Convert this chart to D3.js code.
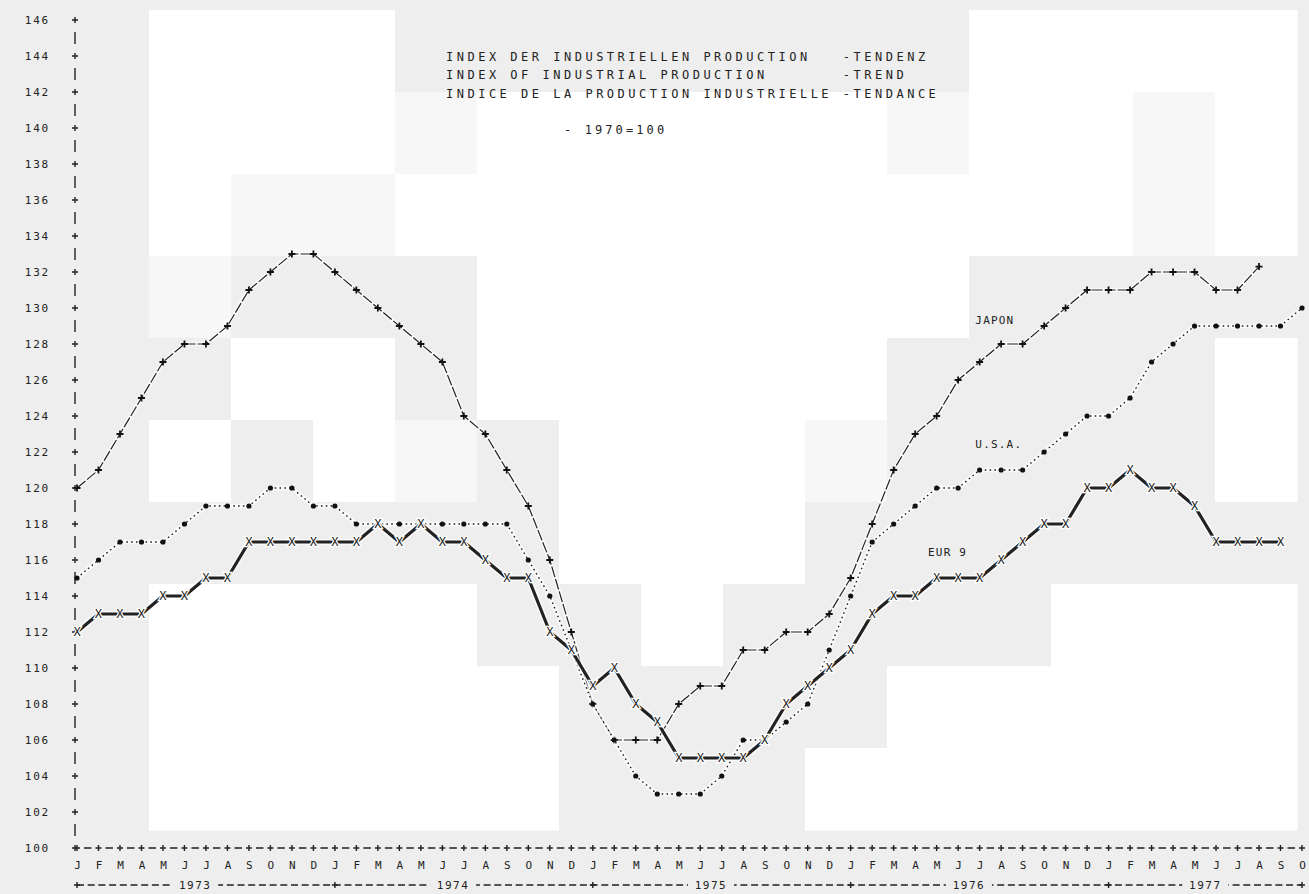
<!DOCTYPE html>
<html>
<head>
<meta charset="utf-8">
<script src="https://cdn.jsdelivr.net/npm/d3@7"></script>
<style>
    body { margin: 0; background: #fff; }
    svg text { font-family: "DejaVu Sans Mono", "Liberation Mono", monospace; fill: #222; }
</style>
</head>
<body>
<svg id="chart" width="1309" height="894"></svg>
<script>
// data (index 1970 = 100), monthly from Jan 1973
const monthLetters = ["J", "F", "M", "A", "M", "J", "J", "A", "S", "O", "N", "D"]
const years = ["1973", "1974", "1975", "1976", "1977"]
const monthCount = 58 // Jan 1973 .. Oct 1977

const japon = [
    120, 121, 123, 125, 127, 128, 128, 129, 131, 132, 133, 133,
    132, 131, 130, 129, 128, 127, 124, 123, 121, 119, 116, 112,
    108, 106, 106, 106, 108, 109, 109, 111, 111, 112, 112, 113,
    115, 118, 121, 123, 124, 126, 127, 128, 128, 129, 130, 131,
    131, 131, 132, 132, 132, 131, 131, 132.3
]
const usa = [
    115, 116, 117, 117, 117, 118, 119, 119, 119, 120, 120, 119,
    119, 118, 118, 118, 118, 118, 118, 118, 118, 116, 114, 111,
    108, 106, 104, 103, 103, 103, 104, 106, 106, 107, 108, 111,
    114, 117, 118, 119, 120, 120, 121, 121, 121, 122, 123, 124,
    124, 125, 127, 128, 129, 129, 129, 129, 129, 130
]
const eur9 = [
    112, 113, 113, 113, 114, 114, 115, 115, 117, 117, 117, 117,
    117, 117, 118, 117, 118, 117, 117, 116, 115, 115, 112, 111,
    109, 110, 108, 107, 105, 105, 105, 105, 106, 108, 109, 110,
    111, 113, 114, 114, 115, 115, 115, 116, 117, 118, 118, 120,
    120, 121, 120, 120, 119, 117, 117, 117, 117
]
const yTicks = d3.range(100, 147, 2)
const titleLines = [
    "INDEX DER INDUSTRIELLEN PRODUCTION   -TENDENZ",
    "INDEX OF INDUSTRIAL PRODUCTION       -TREND",
    "INDICE DE LA PRODUCTION INDUSTRIELLE -TENDANCE"
]
const baseNote = "- 1970=100"
const seriesLabels = ["JAPON", "U.S.A.", "EUR 9"]

const W = 1309, H = 894
const svg = d3.select("#chart")
const x = d3.scaleLinear().domain([0, monthCount - 1]).range([77, 1302])
const y = d3.scaleLinear().domain([100, 146]).range([848, 20])

// scanned paper: grey with lighter blocks
const shade = { W: "#ffffff", G: "#eeeeee", L: "#f7f7f7" }
const blockRows = [
    "WWWGGGGGGGWWWW",
    "WWWLWWWWWLWWLW",
    "WLLWWWWWWWWWLW",
    "LGGGWWWWWWGGGG",
    "GWWGWWWWWGGGGW",
    "WGWLGWWWLGGGGW",
    "GGGGGWWWGGGGGG",
    "WWWWGGWGGGGWWW",
    "WWWWWGGGGWWWWW",
    "WWWWWGGGWWWWWW"
]
svg.append("rect").attr("width", W).attr("height", H).attr("fill", shade.G)
const bg = svg.append("g")
blockRows.forEach((row, r) => {
    bg.selectAll(null).data(row.split("")).join("rect")
        .attr("x", (c, k) => 149 + k * 82)
        .attr("y", 10 + r * 82)
        .attr("width", 82.5)
        .attr("height", 82.5)
        .attr("fill", c => shade[c])
})

// y axis labels
const gy = svg.append("g")
    .attr("transform", "translate(50,0)")
    .call(d3.axisLeft(y).tickValues(yTicks).tickSize(0).tickPadding(0).tickFormat(d3.format("d")))
gy.attr("font-family", null).attr("font-size", null)
gy.select(".domain").remove()
gy.selectAll("text").attr("font-size", 11).attr("letter-spacing", 1.8)

// printer style axis marks: + at even values, | at odd ones
const axisX = 75
svg.append("g").attr("stroke", "#222").attr("stroke-width", 1.4).attr("fill", "none")
    .selectAll("path").data(d3.range(100, 147)).join("path")
    .attr("d", v => v % 2
        ? `M${axisX},${y(v) - 6}V${y(v) + 6}`
        : `M${axisX - 3},${y(v)}H${axisX + 3}M${axisX},${y(v) - 3}V${y(v) + 3}`)

// bottom axis: + at every month, - between
const months = d3.range(monthCount)
const baseY = y(100)
svg.append("g").attr("stroke", "#222").attr("stroke-width", 1.4).attr("fill", "none")
    .selectAll("path").data(months).join("path")
    .attr("d", i => {
        let p = `M${x(i) - 3},${baseY}H${x(i) + 3}M${x(i)},${baseY - 3}V${baseY + 3}`
        if (i < monthCount - 1) p += `M${x(i) + 7},${baseY}H${x(i + 1) - 7}`
        return p
    })

const gx = svg.append("g")
    .attr("transform", `translate(0,${baseY + 13})`)
    .call(d3.axisBottom(x).tickValues(months).tickSize(0).tickPadding(0).tickFormat(i => monthLetters[i % 12]))
gx.attr("font-family", null).attr("font-size", null)
gx.select(".domain").remove()
gx.selectAll("text").attr("font-size", 11)

// year row
const yearY = 885
svg.append("line")
    .attr("x1", x(0)).attr("x2", x(monthCount - 1))
    .attr("y1", yearY).attr("y2", yearY)
    .attr("stroke", "#222").attr("stroke-width", 1.3).attr("stroke-dasharray", "7,3.7")
const yearStarts = years.map((yr, k) => k * 12).concat([monthCount - 1])
svg.append("g").attr("stroke", "#222").attr("stroke-width", 1.4)
    .selectAll("path").data(yearStarts).join("path")
    .attr("d", i => `M${x(i) - 3},${yearY}H${x(i) + 3}M${x(i)},${yearY - 3}V${yearY + 3}`)
const yearCenter = k => Math.min(k * 12 + 5.5, (k * 12 + monthCount - 1) / 2)
const yearG = svg.append("g").selectAll("g").data(years).join("g")
    .attr("transform", (yr, k) => `translate(${x(yearCenter(k))},${yearY})`)
yearG.append("rect").attr("x", -23).attr("y", -7).attr("width", 46).attr("height", 14).attr("fill", shade.G)
yearG.append("text").attr("text-anchor", "middle").attr("dy", "0.35em")
    .attr("font-size", 11).attr("letter-spacing", 1.5).text(d => d)

// title block
const title = svg.append("g").attr("font-size", 12)
title.selectAll("text").data(titleLines).join("text")
    .attr("x", 446)
    .attr("y", (d, i) => [61, 79, 98][i])
    .attr("letter-spacing", 3.5)
    .style("white-space", "pre")
    .text(d => d)
title.append("text").attr("x", 564).attr("y", 134)
    .attr("letter-spacing", 3.1).style("white-space", "pre").text(baseNote)

// series
const line = d3.line().x((d, i) => x(i)).y(d => y(d))

function drawSeries(values, opts) {
    const g = svg.append("g")
    g.append("path").datum(values).attr("d", line)
        .attr("fill", "none").attr("stroke", "#fff").attr("stroke-opacity", 0.7)
        .attr("stroke-width", opts.width + 3).attr("stroke-linejoin", "round")
    g.append("path").datum(values).attr("d", line)
        .attr("fill", "none").attr("stroke", "#222")
        .attr("stroke-width", opts.width)
        .attr("stroke-dasharray", opts.dash)
        .attr("stroke-linejoin", "round")
    return g
}

const gJ = drawSeries(japon, { width: 1.2, dash: "11,2" })
gJ.selectAll(".mk").data(japon).join("path")
    .attr("class", "mk")
    .attr("transform", (d, i) => `translate(${x(i)},${y(d)})`)
    .attr("d", "M-3.5,0H3.5M0,-3.5V3.5")
    .attr("stroke", "#111").attr("stroke-width", 1.8)

const gU = drawSeries(usa, { width: 1.4, dash: "1.6,3.2" })
gU.selectAll("circle").data(usa).join("circle")
    .attr("cx", (d, i) => x(i)).attr("cy", d => y(d))
    .attr("r", 2.6).attr("fill", "#111")

const gE = drawSeries(eur9, { width: 3.2, dash: null })
gE.selectAll("text").data(eur9).join("text")
    .attr("x", (d, i) => x(i)).attr("y", d => y(d))
    .attr("dy", "0.36em").attr("text-anchor", "middle")
    .attr("font-size", 12)
    .attr("stroke", "#fff").attr("stroke-width", 2.5).attr("paint-order", "stroke")
    .text("X")

// series names written beside the curves
const labelAt = [[41.8, 129.1], [41.8, 122.2], [39.6, 116.2]]
svg.append("g").selectAll("text").data(seriesLabels).join("text")
    .attr("x", (d, i) => x(labelAt[i][0]))
    .attr("y", (d, i) => y(labelAt[i][1]))
    .attr("font-family", "'DejaVu Serif', serif")
    .attr("font-size", 11).attr("letter-spacing", 1.2)
    .text(d => d)
</script>
</body>
</html>
